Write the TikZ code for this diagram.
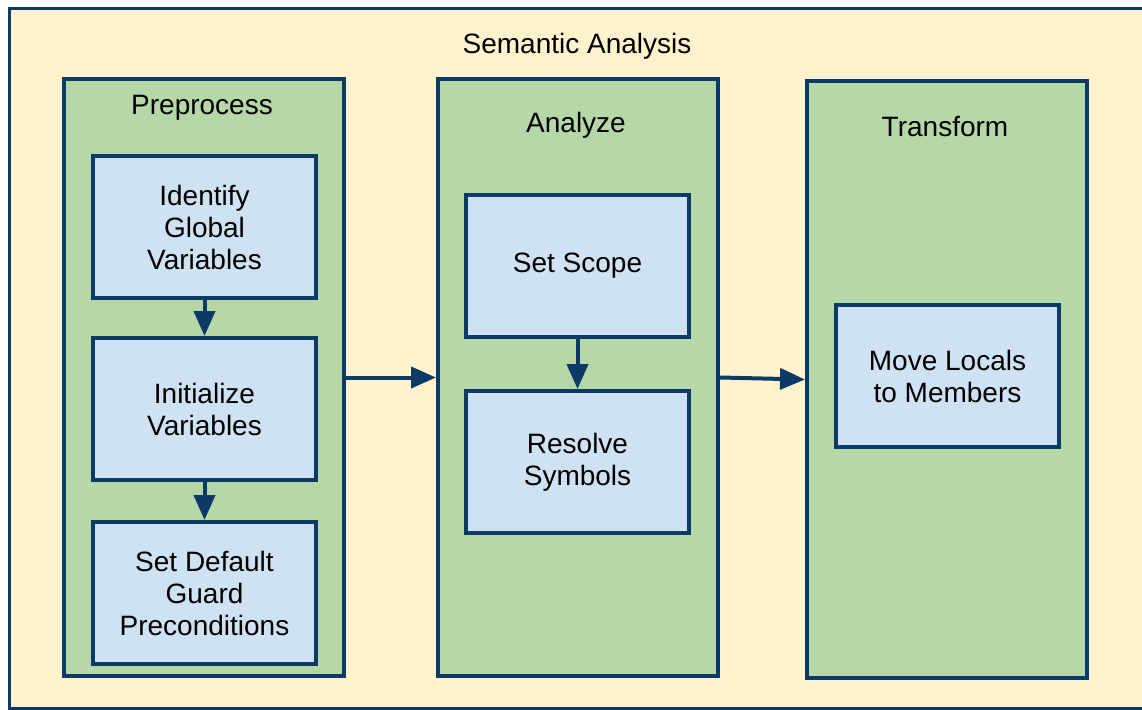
\documentclass[tikz,border=0pt]{standalone}
\usepackage{fontspec}
\setmainfont{Liberation Sans}
\usetikzlibrary{arrows.meta}
\definecolor{frameblue}{HTML}{0B3A66}
\definecolor{cream}{HTML}{FFF2CC}
\definecolor{stagegreen}{HTML}{B6D7A8}
\definecolor{stepblue}{HTML}{CFE2F3}
\tikzset{
  txt/.style={font=\fontsize{28}{32}\selectfont, align=center, text=black},
  stage/.style={draw=frameblue, line width=4pt, fill=stagegreen, minimum width=280pt, minimum height=597pt, inner sep=0pt, anchor=north west},
  stepbox/.style={draw=frameblue, line width=4pt, fill=stepblue, minimum width=223pt, minimum height=142pt, inner sep=0pt, anchor=north west, txt},
  flow/.style={draw=frameblue, line width=4pt, -{Triangle[length=25pt,width=21pt]}},
}
\begin{document}
\begin{tikzpicture}[x=1pt,y=-1pt]
\useasboundingbox (0,0) rectangle (1142,709);
\fill[white] (0,0) rectangle (1142,709);
\node[draw=frameblue, line width=3pt, fill=cream, minimum width=1140pt, minimum height=700pt, inner sep=0pt, anchor=north west] (outer) at (8,7) {};
\node[txt] (title) at (577,46) {Semantic Analysis};

\node[stage] (pre) at (62,77) {};
\node[txt] (pret) at (202,108) {Preprocess};
\node[stepbox] (ident) at (91,154) {Identify\\Global\\Variables};
\node[stepbox] (init) at (91,336) {Initialize\\Variables};
\node[stepbox] (guard) at (91,520) {Set Default\\Guard\\Preconditions};

\node[stage] (ana) at (436,77) {};
\node[txt] (anat) at (576,125) {Analyze};
\node[stepbox] (scope) at (464,193) {Set Scope};
\node[stepbox] (resolve) at (464,389) {Resolve\\Symbols};

\node[stage] (trans) at (805,79) {};
\node[txt] (transt) at (945,127) {Transform};
\node[stepbox] (move) at (834,303) {Move Locals\\to Members};

\draw[flow] (ident.south) -- (init.north);
\draw[flow] (init.south) -- (guard.north);
\draw[flow] (scope.south) -- (resolve.north);
\draw[flow] (pre.east) -- (ana.west);
\draw[flow] (ana.east) -- (trans.west);
\end{tikzpicture}
\end{document}
